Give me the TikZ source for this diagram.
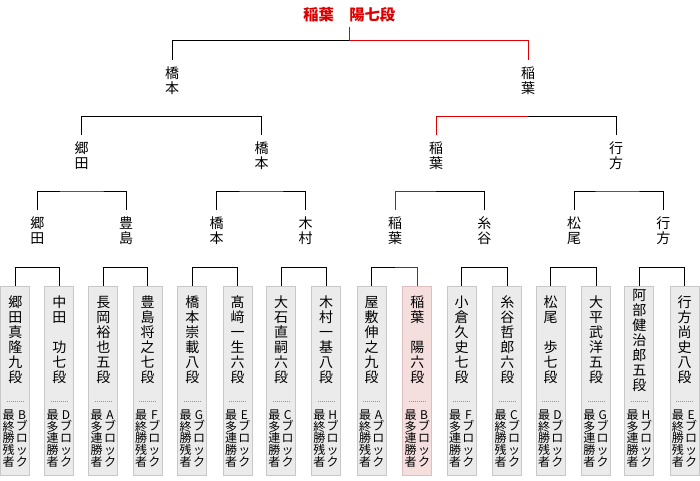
\documentclass[tikz,border=0pt]{standalone}
\usepackage{fontspec}
\setmainfont{Noto Sans CJK JP}
\usetikzlibrary{calc}
\definecolor{winred}{RGB}{220,0,0}
\definecolor{boxgray}{RGB}{235,235,235}
\definecolor{boxedge}{RGB}{200,200,200}
\definecolor{pinkfill}{RGB}{245,222,222}
\definecolor{pinkedge}{RGB}{222,190,190}
\definecolor{dotgray}{RGB}{150,150,150}
\newcommand{\mkleaf}[6]{%
  \node[leafbox,#3] (#1) at (#2,285.5) {};
  \node[nametxt] (#1n) at ($(#1.north)+(0,54.5)$) {#4};
  \draw[dotline] ($(#1.north)+(-8.5,116.2)$) -- ($(#1.north)+(8.5,116.2)$);
  \node[smalltxt] (#1b) at ($(#1.north)+(6.7,153)$) {#5};
  \node[smalltxt] (#1t) at ($(#1.north)+(-6.7,153)$) {#6};
}
\begin{document}
\begin{tikzpicture}[x=0.75pt,y=-0.75pt,
  lnk/.style={line width=0.75pt,black},
  lbl/.style={anchor=north,inner xsep=0pt,inner ysep=4.6pt,align=center,font=\fontsize{10.5pt}{11.5pt}\selectfont},
  titlenode/.style={anchor=south,inner xsep=0pt,inner ysep=3pt,text=winred,font=\fontsize{11.5pt}{13pt}\selectfont\bfseries},
  leafbox/.style={draw=boxedge,fill=boxgray,line width=0.75pt,anchor=north,inner sep=0pt,minimum width=21.75pt,minimum height=142.1pt},
  pinkbox/.style={draw=pinkedge,fill=pinkfill},
  plainbox/.style={},
  nametxt/.style={inner sep=0pt,align=center,font=\fontsize{10.5pt}{11.25pt}\selectfont},
  smalltxt/.style={inner sep=0pt,align=center,font=\fontsize{9pt}{8.8pt}\selectfont},
  dotline/.style={draw=dotgray,line width=0.75pt,dash pattern=on 0.75pt off 0.75pt}
]
\useasboundingbox (0,0) rectangle (700,480);
\fill[white] (0,0) rectangle (700,480);

% leaves
\mkleaf{l1}{15.3}{plainbox}{郷\\田\\真\\隆\\九\\段}{B\\ブ\\ロ\\ッ\\ク}{最\\終\\勝\\残\\者}
\mkleaf{l2}{59.3}{plainbox}{中\\田\\\mbox{}\\功\\七\\段}{D\\ブ\\ロ\\ッ\\ク}{最\\多\\連\\勝\\者}
\mkleaf{l3}{103.3}{plainbox}{長\\岡\\裕\\也\\五\\段}{A\\ブ\\ロ\\ッ\\ク}{最\\多\\連\\勝\\者}
\mkleaf{l4}{147.7}{plainbox}{豊\\島\\将\\之\\七\\段}{F\\ブ\\ロ\\ッ\\ク}{最\\終\\勝\\残\\者}
\mkleaf{l5}{192.3}{plainbox}{橋\\本\\崇\\載\\八\\段}{G\\ブ\\ロ\\ッ\\ク}{最\\終\\勝\\残\\者}
\mkleaf{l6}{237.7}{plainbox}{髙\\﨑\\一\\生\\六\\段}{E\\ブ\\ロ\\ッ\\ク}{最\\多\\連\\勝\\者}
\mkleaf{l7}{281}{plainbox}{大\\石\\直\\嗣\\六\\段}{C\\ブ\\ロ\\ッ\\ク}{最\\多\\連\\勝\\者}
\mkleaf{l8}{326}{plainbox}{木\\村\\一\\基\\八\\段}{H\\ブ\\ロ\\ッ\\ク}{最\\終\\勝\\残\\者}
\mkleaf{l9}{371.7}{plainbox}{屋\\敷\\伸\\之\\九\\段}{A\\ブ\\ロ\\ッ\\ク}{最\\終\\勝\\残\\者}
\mkleaf{l10}{417.3}{pinkbox}{稲\\葉\\\mbox{}\\陽\\六\\段}{B\\ブ\\ロ\\ッ\\ク}{最\\多\\連\\勝\\者}
\mkleaf{l11}{461.7}{plainbox}{小\\倉\\久\\史\\七\\段}{F\\ブ\\ロ\\ッ\\ク}{最\\多\\連\\勝\\者}
\mkleaf{l12}{507.3}{plainbox}{糸\\谷\\哲\\郎\\六\\段}{C\\ブ\\ロ\\ッ\\ク}{最\\終\\勝\\残\\者}
\mkleaf{l13}{550.7}{plainbox}{松\\尾\\\mbox{}\\歩\\七\\段}{D\\ブ\\ロ\\ッ\\ク}{最\\終\\勝\\残\\者}
\mkleaf{l14}{596}{plainbox}{大\\平\\武\\洋\\五\\段}{G\\ブ\\ロ\\ッ\\ク}{最\\多\\連\\勝\\者}
\mkleaf{l15}{639.3}{plainbox}{阿\\部\\健\\治\\郎\\五\\段}{H\\ブ\\ロ\\ッ\\ク}{最\\多\\連\\勝\\者}
\mkleaf{l16}{684.5}{plainbox}{行\\方\\尚\\史\\八\\段}{E\\ブ\\ロ\\ッ\\ク}{最\\終\\勝\\残\\者}

% round winners
\node[lbl] (t3a) at (37.3,210) {郷\\田};
\node[lbl] (t3b) at (126,210) {豊\\島};
\node[lbl] (t3c) at (216.7,210) {橋\\本};
\node[lbl] (t3d) at (305.7,210) {木\\村};
\node[lbl] (t3e) at (395,210) {稲\\葉};
\node[lbl] (t3f) at (484.3,210) {糸\\谷};
\node[lbl] (t3g) at (574,210) {松\\尾};
\node[lbl] (t3h) at (663.3,210) {行\\方};
\node[lbl] (t2a) at (81.7,135) {郷\\田};
\node[lbl] (t2b) at (261.7,135) {橋\\本};
\node[lbl] (t2c) at (436,135) {稲\\葉};
\node[lbl] (t2d) at (616,135) {行\\方};
\node[lbl] (t1a) at (172,60) {橋\\本};
\node[lbl] (t1b) at (528,60) {稲\\葉};
\node[titlenode] (top) at (349.3,26.5) {稲葉　陽七段};

% first round brackets
\draw[lnk] (l1.north) |- (t3a.north |- 0,267.5) -| (l2.north);
\draw[lnk] (l3.north) |- (t3b.north |- 0,267.5) -| (l4.north);
\draw[lnk] (l5.north) |- (t3c.north |- 0,267.5) -| (l6.north);
\draw[lnk] (l7.north) |- (t3d.north |- 0,267.5) -| (l8.north);
\draw[lnk] (l9.north) |- (t3e.north |- 0,267.5);
\draw[lnk,winred] (l10.north) |- (t3e.north |- 0,267.5);
\draw[lnk] (l11.north) |- (t3f.north |- 0,267.5) -| (l12.north);
\draw[lnk] (l13.north) |- (t3g.north |- 0,267.5) -| (l14.north);
\draw[lnk] (l15.north) |- (t3h.north |- 0,267.5) -| (l16.north);

% second round
\draw[lnk] (t3a.north) |- (t2a.north |- 0,191) -| (t3b.north);
\draw[lnk] (t3c.north) |- (t2b.north |- 0,191) -| (t3d.north);
\draw[lnk,winred] (t3e.north) |- (t2c.north |- 0,191);
\draw[lnk] (t3f.north) |- (t2c.north |- 0,191);
\draw[lnk] (t3g.north) |- (t2d.north |- 0,191) -| (t3h.north);

% semi-finals
\draw[lnk] (t2a.north) |- (t1a.north |- 0,116.7) -| (t2b.north);
\draw[lnk,winred] (t2c.north) |- (t1b.north |- 0,116.7);
\draw[lnk] (t2d.north) |- (t1b.north |- 0,116.7);

% final
\draw[lnk] (t1a.north) |- (top.south |- 0,40);
\draw[lnk,winred] (top.south) -- (top.south |- 0,40) -| (t1b.north);
\end{tikzpicture}
\end{document}
